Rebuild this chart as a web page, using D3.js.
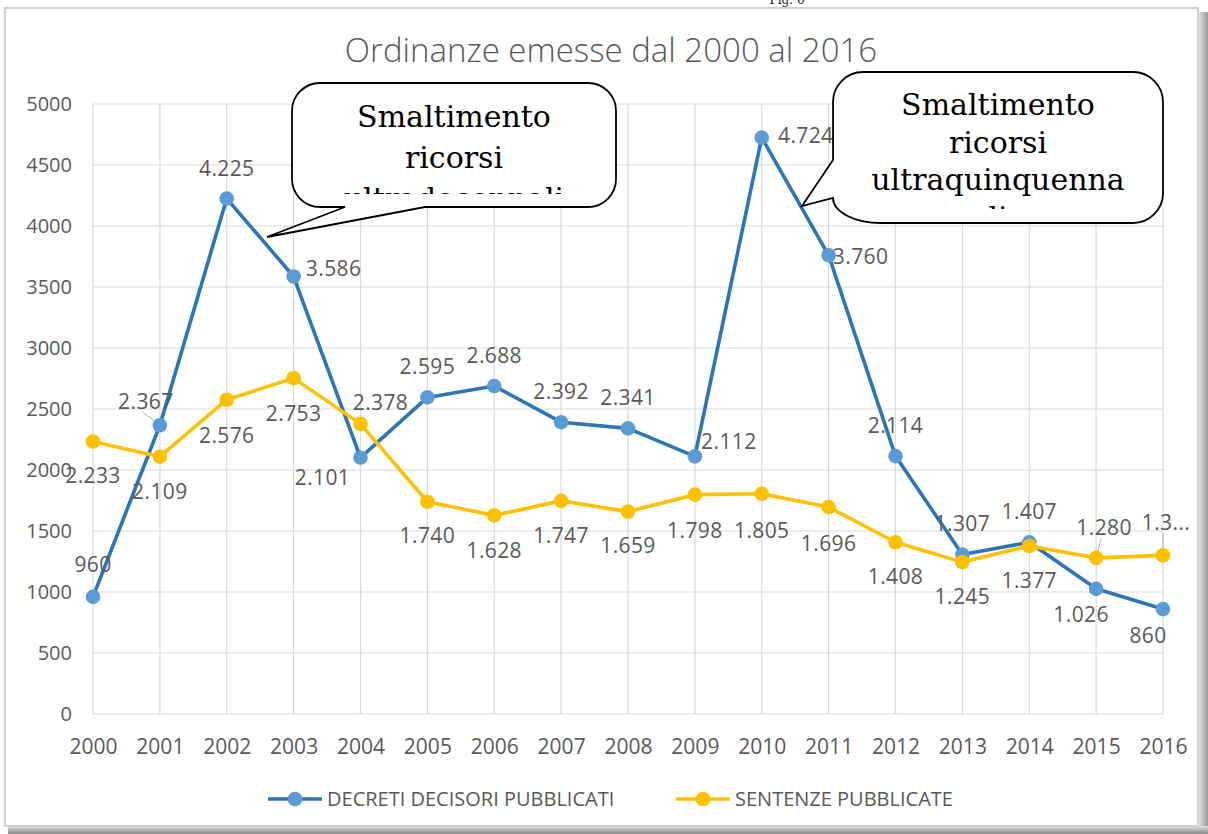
<!DOCTYPE html>
<html>
<head>
<meta charset="utf-8">
<script src="https://cdn.jsdelivr.net/npm/d3@7.9.0/dist/d3.min.js"></script>
<style>
  body { margin: 0; background: #fff; }
  svg { display: block; }
  text { font-family: "Open Sans", sans-serif; }
</style>
</head>
<body>
<svg id="chart" width="1208" height="834"></svg>
<script>
// data
const years = [2000, 2001, 2002, 2003, 2004, 2005, 2006, 2007, 2008, 2009, 2010, 2011, 2012, 2013, 2014, 2015, 2016];
const decreti = [960, 2367, 4225, 3586, 2101, 2595, 2688, 2392, 2341, 2112, 4724, 3760, 2114, 1307, 1407, 1026, 860];
const sentenze = [2233, 2109, 2576, 2753, 2378, 1740, 1628, 1747, 1659, 1798, 1805, 1696, 1408, 1245, 1377, 1280, 1300];
const yTicks = [0, 500, 1000, 1500, 2000, 2500, 3000, 3500, 4000, 4500, 5000];
const seriesNames = ["DECRETI DECISORI PUBBLICATI", "SENTENZE PUBBLICATE"];
const callout1 = ["Smaltimento", "ricorsi", "ultradecennali"];
const callout2 = ["Smaltimento", "ricorsi", "ultraquinquenna", "li"];

// label placement (offset of label centre from its point), layout only
const decretiLabelPos = [[0,-32],[-14,-24],[0,-30],[40,-8],[-38,20],[0,-31],[0,-31],[0,-31],[0,-31],
  [34,-15],[44,-2],[32,1],[0,-31],[0,-31],[0,-31],[-15,26],[-15,26]];
const sentenzeLabelPos = [[0,34],[0,35],[0,36],[0,35],[20,-21],[0,34],[0,35],[0,35],[0,34],
  [0,36],[0,37],[0,36],[0,34],[0,34],[0,34],[8,-30],[3,-33]];
const decretiLeader = [false,true,false,false,false,false,false,false,false,false,false,false,false,false,false,false,false];
const sentenzeLeader = [false,false,false,false,false,false,false,false,false,false,false,false,false,false,false,true,true];

const it = d3.formatLocale({ decimal: ",", thousands: ".", grouping: [3], currency: ["€", ""] });
const fmt = it.format(",");

const svg = d3.select("#chart");
const W = 1208, H = 834;

// frame and shadow
const defs = svg.append("defs");
const gr = defs.append("linearGradient").attr("id", "shR").attr("x1", 0).attr("x2", 1).attr("y1", 0).attr("y2", 0);
gr.append("stop").attr("offset", 0).attr("stop-color", "#e6e6e6");
gr.append("stop").attr("offset", 1).attr("stop-color", "#9a9a9a");
const gb = defs.append("linearGradient").attr("id", "shB").attr("x1", 0).attr("x2", 0).attr("y1", 0).attr("y2", 1);
gb.append("stop").attr("offset", 0).attr("stop-color", "#e6e6e6");
gb.append("stop").attr("offset", 1).attr("stop-color", "#858585");

svg.append("rect").attr("x", 1198).attr("y", 12).attr("width", W - 1198).attr("height", H - 12).attr("fill", "url(#shR)");
svg.append("rect").attr("x", 8).attr("y", 826).attr("width", W - 8).attr("height", H - 826).attr("fill", "url(#shB)");
svg.append("rect").attr("x", 5).attr("y", 8).attr("width", 1193).attr("height", 818)
  .attr("fill", "#fff").attr("stroke", "#d0d0d0").attr("stroke-width", 2);

svg.append("text").attr("x", 787).attr("y", 4).attr("text-anchor", "middle")
  .style("font-family", "'DejaVu Serif', serif").style("font-size", "12px").attr("fill", "#222").text("Fig. 6");

const x = d3.scalePoint().domain(years).range([93, 1163]);
const y = d3.scaleLinear().domain([0, 5000]).range([714, 104]);

// gridlines
svg.append("g").selectAll("line").data(yTicks).join("line")
  .attr("x1", 93).attr("x2", 1163).attr("y1", d => y(d)).attr("y2", d => y(d))
  .attr("stroke", "#d9d9d9").attr("stroke-width", 1.2);
svg.append("g").selectAll("line").data(years).join("line")
  .attr("x1", d => x(d)).attr("x2", d => x(d)).attr("y1", y(5000)).attr("y2", y(0))
  .attr("stroke", "#d9d9d9").attr("stroke-width", 1.2);

// axes
const yAxis = svg.append("g").attr("transform", "translate(93,0)")
  .call(d3.axisLeft(y).tickValues(yTicks).tickSize(0).tickPadding(21).tickFormat(d3.format("d")));
const xAxis = svg.append("g").attr("transform", `translate(0,${y(0)})`)
  .call(d3.axisBottom(x).tickSize(0).tickPadding(25));
[yAxis, xAxis].forEach(a => {
  a.select(".domain").remove();
  a.selectAll("text").attr("fill", "#595959").style("font-family", "'Open Sans', sans-serif");
});
yAxis.selectAll("text").style("font-size", "20px");
xAxis.selectAll("text").style("font-size", "21px");

// title
svg.append("text").attr("x", 611).attr("y", 62).attr("text-anchor", "middle")
  .attr("fill", "#595959").style("font-size", "33px").style("font-weight", 300)
  .text("Ordinanze emesse dal 2000 al 2016");

function drawSeries(values, lineColor, markerColor, labelPos, leader, lastText) {
  const pts = values.map((v, i) => ({ year: years[i], v, i }));
  const g = svg.append("g");
  g.append("path").datum(pts)
    .attr("d", d3.line().x(d => x(d.year)).y(d => y(d.v)))
    .attr("fill", "none").attr("stroke", lineColor).attr("stroke-width", 3.6)
    .attr("stroke-linejoin", "round");

  const lab = g.append("g");
  pts.forEach(d => {
    const px = x(d.year), py = y(d.v);
    const lx = px + labelPos[d.i][0], ly = py + labelPos[d.i][1];
    if (leader[d.i]) {
      const sx = lx - 3, sy = ly + 11;
      const dx = px - sx, dy = py - sy, len = Math.hypot(dx, dy);
      lab.append("line").attr("x1", sx).attr("y1", sy)
        .attr("x2", px - dx / len * 7).attr("y2", py - dy / len * 7)
        .attr("stroke", "#b0b0b0").attr("stroke-width", 1);
    }
    lab.append("text").attr("x", lx).attr("y", ly).attr("dy", "0.36em")
      .attr("text-anchor", "middle").attr("fill", "#595959")
      .style("font-size", "21px").style("letter-spacing", "0.4px")
      .text(lastText && d.i === values.length - 1 ? lastText : fmt(d.v));
  });

  g.append("g").selectAll("circle").data(pts).join("circle")
    .attr("cx", d => x(d.year)).attr("cy", d => y(d.v)).attr("r", 7.3)
    .attr("fill", markerColor);
}

drawSeries(decreti, "#2E75B6", "#5B9BD5", decretiLabelPos, decretiLeader, null);
drawSeries(sentenze, "#FFC000", "#FFC000", sentenzeLabelPos, sentenzeLeader, "1.3...");

// legend
const legend = svg.append("g");
const legendItems = [
  { name: seriesNames[0], line: "#2E75B6", mark: "#5B9BD5", x0: 268 },
  { name: seriesNames[1], line: "#FFC000", mark: "#FFC000", x0: 676 }
];
legendItems.forEach(it => {
  legend.append("line").attr("x1", it.x0).attr("x2", it.x0 + 54).attr("y1", 799).attr("y2", 799)
    .attr("stroke", it.line).attr("stroke-width", 3.6);
  legend.append("circle").attr("cx", it.x0 + 27).attr("cy", 799).attr("r", 7.3).attr("fill", it.mark);
  legend.append("text").attr("x", it.x0 + 59).attr("y", 799).attr("dy", "0.36em")
    .attr("fill", "#595959").style("font-size", "20px").text(it.name);
});

// callouts
function bubblePath(b) {
  const { x0, y0, x1, y1, r } = b;
  if (b.side === "bottom") {
    return `M${x0 + r},${y0} H${x1 - r} A${r},${r} 0 0 1 ${x1},${y0 + r} V${y1 - r}
      A${r},${r} 0 0 1 ${x1 - r},${y1} H${b.b2} L${b.tx},${b.ty} L${b.b1},${y1} H${x0 + r}
      A${r},${r} 0 0 1 ${x0},${y1 - r} V${y0 + r} A${r},${r} 0 0 1 ${x0 + r},${y0} Z`;
  }
  return `M${x0 + r},${y0} H${x1 - r} A${r},${r} 0 0 1 ${x1},${y0 + r} V${y1 - r}
    A${r},${r} 0 0 1 ${x1 - r},${y1} H${x0 + 48} A48,25 0 0 1 ${x0},${b.b2}
    L${b.tx},${b.ty} L${x0},${b.b1} V${y0 + r} A${r},${r} 0 0 1 ${x0 + r},${y0} Z`;
}

const bubbles = [
  { lines: callout1, x0: 292, y0: 83, x1: 616, y1: 207, r: 28, side: "bottom", b1: 345, b2: 425, tx: 267, ty: 237,
    base: 127, lh: 41, clip: 194 },
  { lines: callout2, x0: 833, y0: 72, x1: 1163, y1: 223, r: 30, side: "left", b1: 160, b2: 198, tx: 802, ty: 206,
    base: 115, lh: 37.5, clip: 209 }
];

bubbles.forEach((b, k) => {
  defs.append("clipPath").attr("id", "clip" + k).append("rect")
    .attr("x", b.x0).attr("y", b.y0).attr("width", b.x1 - b.x0).attr("height", b.clip - b.y0);
  svg.append("path").attr("d", bubblePath(b))
    .attr("fill", "#fff").attr("stroke", "#000").attr("stroke-width", 1.8).attr("stroke-linejoin", "miter");
  const t = svg.append("g").attr("clip-path", `url(#clip${k})`);
  b.lines.forEach((ln, i) => {
    t.append("text").attr("x", (b.x0 + b.x1) / 2).attr("y", b.base + i * b.lh)
      .attr("text-anchor", "middle").attr("fill", "#000")
      .style("font-family", "'DejaVu Serif', serif").style("font-size", "30px")
      .text(ln);
  });
});
</script>
</body>
</html>
